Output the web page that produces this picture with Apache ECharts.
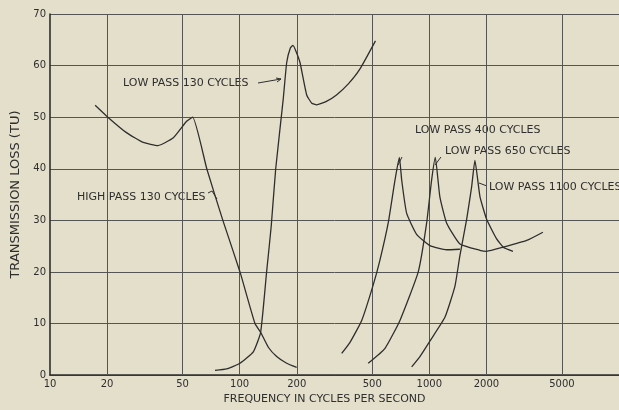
<!DOCTYPE html>
<html><head><meta charset="utf-8">
<script src="https://cdn.jsdelivr.net/npm/echarts@6/dist/echarts.min.js"></script>
<style>html,body{margin:0;padding:0;background:#e4dfcb;} #c{width:619px;height:410px;}</style>
</head><body><div id="c"></div>
<script>
// Tick labels
const xTickValues = [10, 20, 50, 100, 200, 500, 1000, 2000, 5000];
const xGridValues = [20, 50, 100, 200, 500, 1000, 2000, 5000];
const yTickValues = [0, 10, 20, 30, 40, 50, 60, 70];

// Series: [frequency (c/s), transmission loss (TU)]
const highPass130 = [[17.3,52.3],[19.9,50.2],[25.3,47.0],[31,45.1],[37.1,44.5],[44.7,46.0],[52.5,49.2],[56.5,50.0],[67.2,39.9],[81.7,29.9],[100.4,20.0],[120.4,10.0],[129,8.3],[141.6,5.4],[156.7,3.6],[176.9,2.3],[199.8,1.5]];
const lowPass130 = [[74.1,0.9],[85.3,1.2],[100.4,2.3],[118,4.5],[129,8.3],[138.7,20.0],[146.7,28.9],[154.8,39.9],[169.8,53.6],[177,60.6],[185,63.4],[191,63.9],[198,62.8],[208,60.6],[225.6,54.3],[240,52.7],[254.7,52.4],[285,53.0],[324,54.3],[375,56.5],[430,59.3],[520,64.8]];
const lowPass400 = [[345,4.2],[381,6.3],[440,10.6],[506,17.5],[549,22.3],[607,29.5],[659,37.8],[695,42.2],[715,37.8],[759,31.4],[857,27.3],[1007,25.1],[1233,24.3],[1450,24.4]];
const lowPass650 = [[476,2.3],[584,5.2],[700,10.6],[874,20.0],[968,29.5],[1028,37.8],[1075,42.2],[1136,34.6],[1233,29.5],[1450,25.4],[1845,24.2],[2005,24.0],[2454,24.8],[3260,26.1],[3970,27.7]];
const lowPass1100 = [[807,1.6],[892,3.6],[1007,6.6],[1208,11.2],[1364,17.2],[1450,23.2],[1573,30.2],[1671,36.5],[1739,41.6],[1849,34.6],[2005,30.2],[2264,26.4],[2454,24.8],[2760,24.0]];

const INK = '#2e2e2e';
const FONT = 'DejaVu Sans';
const chart = echarts.init(document.getElementById('c'), null, {renderer: 'canvas'});

function curve(name, data) {
  return {name, type: 'line', data, symbol: 'none', smooth: 0.15, silent: true,
    lineStyle: {color: INK, width: 1.3}, z: 5};
}

const series = [
  curve('HIGH PASS 130 CYCLES', highPass130),
  curve('LOW PASS 130 CYCLES', lowPass130),
  curve('LOW PASS 400 CYCLES', lowPass400),
  curve('LOW PASS 650 CYCLES', lowPass650),
  curve('LOW PASS 1100 CYCLES', lowPass1100)
];
// vertical grid lines via markLine
series[0].markLine = {silent: true, symbol: 'none', label: {show: false},
  lineStyle: {color: '#555', width: 1, type: 'solid'},
  data: xGridValues.map(v => ({xAxis: v}))};

const txt = (x, y, s, extra) => Object.assign({type: 'text', x, y,
  style: {text: s, fill: INK, font: '11px "' + FONT + '"', textVerticalAlign: 'middle'}}, extra || {});
const ln = (x1, y1, x2, y2) => ({type: 'line', shape: {x1, y1, x2, y2}, style: {stroke: INK, lineWidth: 1}});

chart.setOption({
  backgroundColor: '#e4dfcb',
  animation: false,
  grid: {left: 50, right: 0, top: 14, bottom: 28, containLabel: false},
  xAxis: {
    type: 'log', logBase: 10, min: 10, max: 10000,
    name: 'FREQUENCY IN CYCLES PER SECOND', nameLocation: 'middle', nameGap: 16,
    nameTextStyle: {color: INK, fontFamily: FONT, fontSize: 11, padding: [0, 20, 0, 0]},
    axisLine: {show: true, lineStyle: {color: INK, width: 1.6}},
    axisTick: {show: false, customValues: xTickValues},
    axisLabel: {customValues: xTickValues, color: INK, fontFamily: FONT, fontSize: 10, margin: 4,
      formatter: v => String(Math.round(v))},
    splitLine: {show: false},
    minorTick: {show: false}, minorSplitLine: {show: false}
  },
  yAxis: {
    type: 'value', min: 0, max: 70, interval: 10,
    name: 'TRANSMISSION LOSS (TU)', nameLocation: 'middle', nameGap: 28,
    nameTextStyle: {color: INK, fontFamily: FONT, fontSize: 13},
    axisLine: {show: true, lineStyle: {color: INK, width: 1.6}},
    axisTick: {show: false},
    axisLabel: {color: INK, fontFamily: FONT, fontSize: 10, margin: 4},
    splitLine: {show: true, lineStyle: {color: '#555', width: 1}}
  },
  series,
  graphic: [
    txt(123, 83, 'LOW PASS 130 CYCLES'),
    ln(258, 83, 281, 79), ln(281, 79, 276, 78), ln(281, 79, 277, 82),
    txt(77, 197, 'HIGH PASS 130 CYCLES'),
    ln(208, 193, 212, 191), ln(212, 191, 217, 199),
    txt(415, 130, 'LOW PASS 400 CYCLES'),
    ln(398, 165, 402, 157),
    txt(445, 151, 'LOW PASS 650 CYCLES'),
    ln(435, 165, 441, 157),
    txt(489, 187, 'LOW PASS 1100 CYCLES'),
    ln(487, 186, 479, 183)
  ]
});
</script></body></html>
